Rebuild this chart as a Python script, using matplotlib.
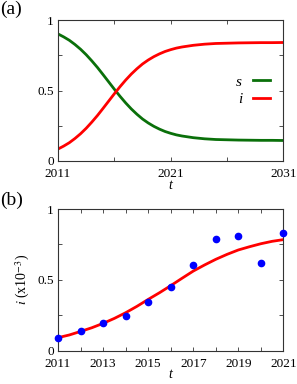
import numpy as np
import matplotlib
matplotlib.use('Agg')
import matplotlib.pyplot as plt

plt.rcParams['font.family'] = ['Liberation Serif', 'DejaVu Serif']
plt.rcParams['mathtext.fontset'] = 'stix'

# panel (a): model curves
years_a = [2011, 2011.5, 2012, 2012.5, 2013, 2013.5, 2014, 2014.5, 2015, 2015.5,
           2016, 2016.5, 2017, 2017.5, 2018, 2018.5, 2019, 2019.5, 2020, 2020.5,
           2021, 2021.5, 2022, 2023, 2024, 2025, 2026, 2027, 2028, 2029, 2030, 2031]
s_vals = [0.903, 0.882, 0.858, 0.828, 0.794, 0.755, 0.711, 0.664, 0.613, 0.561,
          0.509, 0.459, 0.412, 0.369, 0.331, 0.297, 0.269, 0.245, 0.225, 0.208,
          0.195, 0.184, 0.176, 0.164, 0.156, 0.151, 0.149, 0.147, 0.146, 0.145, 0.145, 0.144]
i_vals = [0.083, 0.104, 0.128, 0.158, 0.192, 0.231, 0.275, 0.322, 0.373, 0.425,
          0.477, 0.527, 0.574, 0.617, 0.655, 0.689, 0.717, 0.741, 0.761, 0.778,
          0.791, 0.802, 0.810, 0.822, 0.830, 0.835, 0.837, 0.839, 0.840, 0.841, 0.841, 0.842]

# panel (b): data points and fitted curve (x10^-3)
years_b = list(range(2011, 2022))
i_data = [0.087, 0.136, 0.193, 0.247, 0.344, 0.452, 0.607, 0.791, 0.809, 0.621, 0.831]
years_fit = [2011, 2011.5, 2012, 2012.5, 2013, 2013.5, 2014, 2014.5, 2015, 2015.5, 2016,
             2016.5, 2017, 2017.5, 2018, 2018.5, 2019, 2019.5, 2020, 2020.5, 2021]
i_fit = [0.092, 0.111, 0.136, 0.162, 0.193, 0.228, 0.268, 0.313, 0.362, 0.409, 0.459,
         0.511, 0.562, 0.605, 0.645, 0.680, 0.711, 0.734, 0.755, 0.772, 0.784]

fig = plt.figure(figsize=(2.97, 3.84), dpi=100)
ax1 = fig.add_axes([0.1953, 0.5815, 0.759, 0.3656])
ax2 = fig.add_axes([0.1953, 0.0867, 0.759, 0.369])

green = '#0a700a'
red = '#ff0000'

ax1.plot(years_a, s_vals, color=green, lw=2, label='s', solid_joinstyle='round')
ax1.plot(years_a, i_vals, color=red, lw=2, label='i', solid_joinstyle='round')
ax1.set_xlim(2011, 2031)
ax1.set_ylim(0, 1)
ax1.set_yticks([0, 0.25, 0.5, 0.75, 1])
ax1.set_yticklabels(['0', '', '0.5', '', '1'])
ax1.set_xticks([2011, 2016, 2021, 2026, 2031])
ax1.set_xticklabels(['2011', '', '2021', '', '2031'])
ax1.set_xlabel('t', style='italic', fontsize=10, labelpad=-1)
leg = ax1.legend(loc='center right', bbox_to_anchor=(1.0, 0.5), frameon=False,
                 markerfirst=False, handlelength=1.1, handletextpad=0.7,
                 labelspacing=0.25, prop={'style': 'italic', 'size': 11})

ax2.plot(years_fit, i_fit, color=red, lw=2, zorder=2, solid_joinstyle='round')
ax2.plot(years_b, i_data, 'o', color='#0000ff', ms=4.5, zorder=3, clip_on=False)
ax2.set_xlim(2011, 2021)
ax2.set_ylim(0, 1)
ax2.set_xticks(years_b)
ax2.set_xticklabels([str(y) if (y - 2011) % 2 == 0 else '' for y in years_b])
ax2.set_yticks([0, 0.25, 0.5, 0.75, 1])
ax2.set_yticklabels(['0', '', '0.5', '', '1'])
ax2.set_xlabel('t', style='italic', fontsize=10, labelpad=-2)
ax2.set_ylabel(r'$i$ (x10$^{-3}$)', fontsize=10, labelpad=4)

for ax in (ax1, ax2):
    ax.tick_params(direction='in', top=True, right=True, length=3, width=0.6,
                   labelsize=9.5, colors='#333333', labelcolor='black')
    ax.tick_params(axis='x', pad=5.5)
    ax.tick_params(axis='y', pad=3)
    for sp in ax.spines.values():
        sp.set_linewidth(0.8)
        sp.set_color('#333333')

fig.text(0.0, 0.998, '(a)', fontsize=14, va='top', ha='left')
fig.text(0.0, 0.500, '(b)', fontsize=14, va='top', ha='left')

fig.savefig('out.png', dpi=100)
